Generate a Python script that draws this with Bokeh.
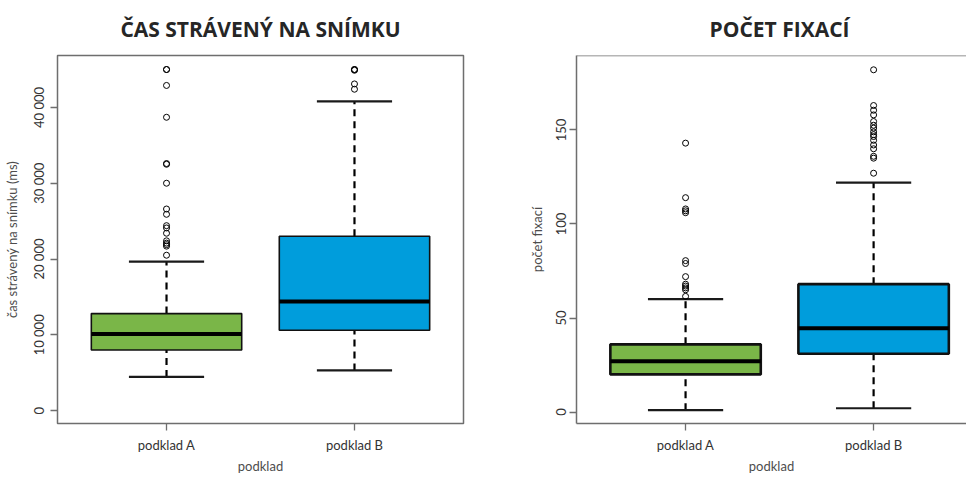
from bokeh.plotting import figure
from bokeh.layouts import row
from bokeh.models import Range1d, FixedTicker, Title, Span
from bokeh.embed import file_html
from bokeh.resources import INLINE

# ---------------- data ----------------
categories = ["podklad A", "podklad B"]
xpos = [1, 2]
fill_colors = ["#7ab648", "#009ddc"]

# Chart 1: čas strávený na snímku (ms)
cas_q1 = [8000, 10600]
cas_med = [10100, 14400]
cas_q3 = [12800, 23000]
cas_lo = [4450, 5300]
cas_hi = [19650, 40800]
cas_out_A = [45000, 45000, 42900, 38700, 32600, 32500, 30000, 26600, 25900,
             24400, 24100, 23400, 22400, 22100, 21900, 21700, 20500]
cas_out_B = [45000, 45000, 44900, 43100, 42400]
cas_ticks = [0, 10000, 20000, 30000, 40000]
cas_tick_labels = ["0", "10 000", "20 000", "30 000", "40 000"]

# Chart 2: počet fixací
fix_q1 = [20, 31]
fix_med = [27, 44.5]
fix_q3 = [36, 68]
fix_lo = [1, 2]
fix_hi = [60, 122]
fix_out_A = [143, 114, 108, 107, 106, 80.5, 79, 72, 68, 67, 66, 65, 61.5]
fix_out_B = [182, 163, 160.5, 158, 154.5, 152.5, 151, 149, 147.5, 146.5,
             144.5, 142, 140, 136, 135, 127]
fix_ticks = [0, 50, 100, 150]
fix_tick_labels = ["0", "50", "100", "150"]

FRAME = "#6e6e6e"
TXT = "#333333"
LAB = "#4d4d4d"
FONT = "Lato"


def make_panel(title, ylabel, q1, med, q3, lo, hi, outs, ticks, tick_labels,
               yr, xr, fw, mbl, mbr, box_lw, title_align, title_offset,
               full_frame):
    p = figure(frame_width=fw, frame_height=368, output_backend="svg",
               toolbar_location=None, x_range=Range1d(*xr),
               y_range=Range1d(*yr), min_border_left=mbl,
               min_border_right=mbr, min_border_top=50, min_border_bottom=38)
    p.grid.visible = False
    p.background_fill_color = "white"
    p.border_fill_color = "white"
    if full_frame:
        p.outline_line_color = FRAME
        p.outline_line_width = 1.5
    else:
        p.outline_line_color = None
        p.add_layout(Span(location=yr[1], dimension="width",
                          line_color=FRAME, line_width=1.5))

    t = Title(text=title, align=title_align, text_font="Open Sans",
              text_font_size="21px", text_font_style="bold",
              text_color="#262626", standoff=25, offset=title_offset)
    p.add_layout(t, "above")

    half = 0.4
    cap = 0.2
    left = [x - half for x in xpos]
    right = [x + half for x in xpos]
    # whiskers
    p.segment(x0=xpos, y0=q3, x1=xpos, y1=hi, line_color="black",
              line_width=2.2, line_dash="7 5")
    p.segment(x0=xpos, y0=lo, x1=xpos, y1=q1, line_color="black",
              line_width=2.2, line_dash="7 5")
    p.segment(x0=[x - cap for x in xpos], y0=hi, x1=[x + cap for x in xpos],
              y1=hi, line_color="#1a1a1a", line_width=2.2)
    p.segment(x0=[x - cap for x in xpos], y0=lo, x1=[x + cap for x in xpos],
              y1=lo, line_color="#1a1a1a", line_width=2.2)
    # boxes
    p.quad(left=left, right=right, bottom=q1, top=q3, fill_color=fill_colors,
           line_color="#111111", line_width=box_lw)
    # medians
    p.segment(x0=left, y0=med, x1=right, y1=med, line_color="black",
              line_width=4)
    # outliers
    for x, o in zip(xpos, outs):
        p.scatter(x=[x] * len(o), y=o, size=6, marker="circle",
                  fill_color=None, line_color="black", line_width=1)

    # axes
    xa = p.xaxis[0]
    xa.ticker = FixedTicker(ticks=xpos)
    xa.major_label_overrides = {x: c for x, c in zip(xpos, categories)}
    xa.axis_label = "podklad"
    ya = p.yaxis[0]
    ya.ticker = FixedTicker(ticks=ticks)
    ya.major_label_overrides = {t_: l for t_, l in zip(ticks, tick_labels)}
    ya.axis_label = ylabel
    ya.major_label_orientation = "vertical"
    for ax in (xa, ya):
        ax.minor_tick_line_color = None
        ax.major_tick_in = 0
        ax.major_tick_out = 7
        ax.major_tick_line_color = FRAME
        ax.major_tick_line_width = 1.3
        ax.axis_line_color = None if full_frame else FRAME
        ax.axis_line_width = 1.5
        ax.major_label_text_font = FONT
        ax.major_label_text_font_size = "13px"
        ax.major_label_text_color = TXT
        ax.axis_label_text_font = FONT
        ax.axis_label_text_font_size = "13px"
        ax.axis_label_text_font_style = "normal"
        ax.axis_label_text_color = LAB
    xa.major_label_standoff = 6
    xa.axis_label_standoff = 2
    ya.major_label_standoff = 3
    ya.axis_label_standoff = 9
    return p


p1 = make_panel("ČAS STRÁVENÝ NA SNÍMKU", "čas strávený na snímku (ms)",
                cas_q1, cas_med, cas_q3, cas_lo, cas_hi,
                [cas_out_A, cas_out_B], cas_ticks, cas_tick_labels,
                (-1700, 46850), (0.42, 2.58), 406, 49, 27, 1.6,
                "center", 0, True)
p2 = make_panel("POČET FIXACÍ", "počet fixací",
                fix_q1, fix_med, fix_q3, fix_lo, fix_hi,
                [fix_out_A, fix_out_B], fix_ticks, fix_tick_labels,
                (-6.1, 189.6), (0.42, 2.494), 390, 86, 0, 2.6,
                "left", 133, False)

layout = row(p1, p2)
open("out.html", "w").write(file_html(layout, INLINE))
